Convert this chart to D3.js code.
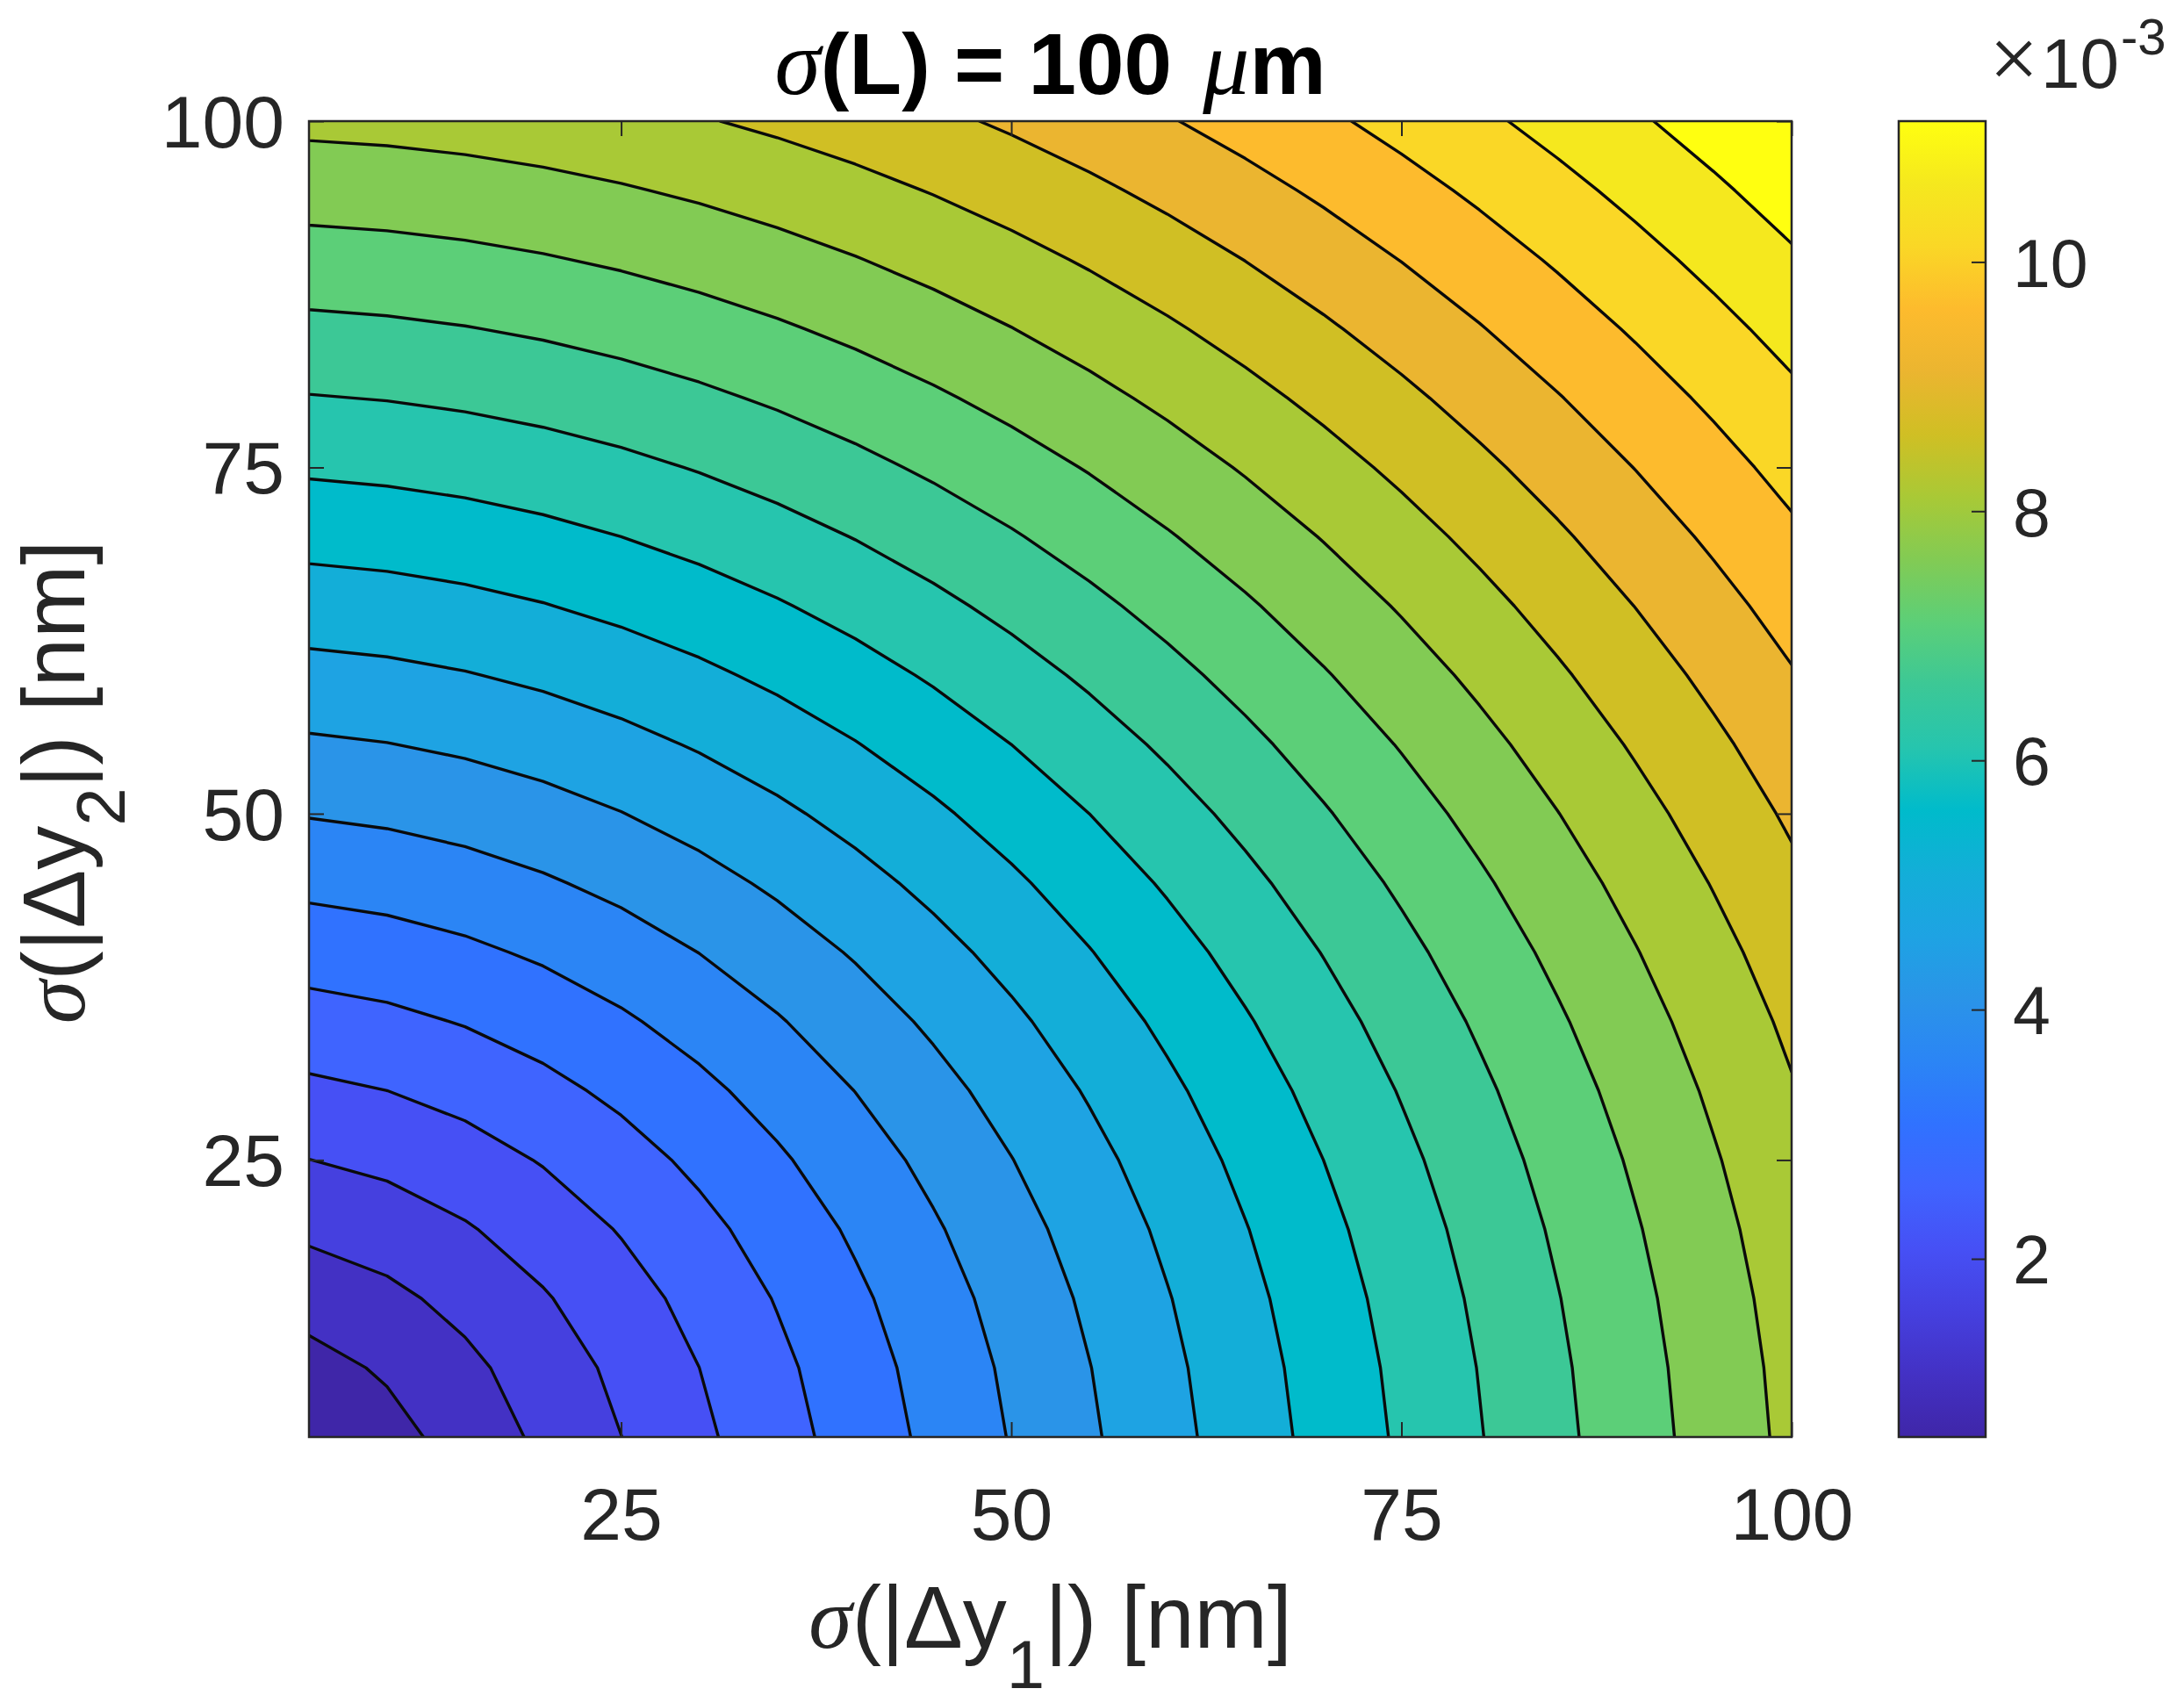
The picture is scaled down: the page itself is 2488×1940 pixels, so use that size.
<!DOCTYPE html>
<html>
<head>
<meta charset="utf-8">
<script src="https://cdn.jsdelivr.net/npm/d3@7"></script>
<style>
  body { margin: 0; background: #fff; }
  text { font-family: "Liberation Sans", Arial, sans-serif; fill: #262626; }
  .greek { font-family: "Liberation Serif", serif; font-style: italic; font-weight: normal; }
</style>
</head>
<body>
<svg id="chart" width="2488" height="1940"></svg>
<script>
// Grid positions of the sigma(|dy|) sweep, nm
const sweep = [5, 10, 15, 20, 25, 30, 35, 40, 45, 50, 55, 60, 65, 70, 75, 80, 85, 90, 95, 100];

// Upper triangle of the surface in units of 1e-3 (plot is mirrored about the diagonal)
const surfaceRows = [
  [0.556, 0.880, 1.244, 1.622, 2.006, 2.394, 2.782, 3.172, 3.563, 3.955, 4.346, 4.739, 5.130, 5.523, 5.915, 6.308, 6.701, 7.094, 7.487, 7.880],
  [1.113, 1.419, 1.760, 2.119, 2.489, 2.865, 3.245, 3.628, 4.013, 4.399, 4.787, 5.176, 5.565, 5.955, 6.345, 6.736, 7.127, 7.518, 7.909],
  [1.670, 1.968, 2.294, 2.640, 2.997, 3.362, 3.733, 4.108, 4.487, 4.867, 5.250, 5.634, 6.019, 6.406, 6.793, 7.181, 7.569, 7.958],
  [2.226, 2.520, 2.838, 3.172, 3.519, 3.876, 4.238, 4.606, 4.977, 5.352, 5.729, 6.109, 6.490, 6.872, 7.256, 7.640, 8.026],
  [2.782, 3.073, 3.385, 3.712, 4.051, 4.399, 4.755, 5.116, 5.481, 5.850, 6.222, 6.596, 6.973, 7.351, 7.731, 8.112],
  [3.339, 3.628, 3.935, 4.256, 4.589, 4.931, 5.279, 5.634, 5.994, 6.357, 6.724, 7.094, 7.466, 7.840, 8.217],
  [3.895, 4.183, 4.487, 4.803, 5.130, 5.466, 5.810, 6.159, 6.514, 6.872, 7.234, 7.600, 7.968, 8.338],
  [4.452, 4.739, 5.039, 5.352, 5.675, 6.006, 6.345, 6.690, 7.039, 7.393, 7.751, 8.112, 8.476],
  [5.008, 5.294, 5.593, 5.903, 6.222, 6.549, 6.884, 7.224, 7.569, 7.919, 8.273, 8.630],
  [5.565, 5.850, 6.147, 6.454, 6.770, 7.094, 7.425, 7.761, 8.103, 8.449, 8.799],
  [6.121, 6.406, 6.701, 7.006, 7.319, 7.640, 7.968, 8.301, 8.639, 8.982],
  [6.678, 6.962, 7.256, 7.559, 7.870, 8.188, 8.513, 8.843, 9.178],
  [7.234, 7.518, 7.811, 8.112, 8.421, 8.737, 9.059, 9.387],
  [7.791, 8.074, 8.366, 8.666, 8.973, 9.287, 9.607],
  [8.347, 8.630, 8.921, 9.220, 9.525, 9.838],
  [8.904, 9.186, 9.477, 9.774, 10.078],
  [9.461, 9.743, 10.032, 10.329],
  [10.017, 10.299, 10.588],
  [10.573, 10.855],
  [11.130]
];

const levels = [1.05, 1.53, 2.01, 2.49, 2.97, 3.45, 3.93, 4.41, 4.89, 5.37, 5.85, 6.33, 6.81, 7.29, 7.77, 8.25, 8.73, 9.21, 9.69, 10.17, 10.65];

const axisTicks = [25, 50, 75, 100];
const colorbarTicks = [2, 4, 6, 8, 10];
const colorLimits = [0.57, 11.13];

// Band colours bottom to top
const bandColors = ["#3f26a8", "#4331c4", "#4540df", "#4650f5", "#3f64ff", "#3072ff", "#2b85f5", "#2a94e8",
  "#1ea3e3", "#13aed8", "#00bbcb", "#26c5ae", "#3cc896", "#5ccf78", "#82cb54", "#a9c936",
  "#d0bf24", "#ebb530", "#fdbb2d", "#fad726", "#f5e81e", "#ffff10"];

// Set dimensions
const plot = { left: 352, right: 2041, top: 138, bottom: 1637 };
const bar = { left: 2163, right: 2262 };
const ink = "#262626";

const svg = d3.select("#chart");

const x = d3.scaleLinear().domain([5, 100]).range([plot.left, plot.right]);
const y = d3.scaleLinear().domain([5, 100]).range([plot.bottom, plot.top]);
const c = d3.scaleLinear().domain(colorLimits).range([plot.bottom, plot.top]);

// Mirror the triangle into the full grid for d3.contours
const n = sweep.length;
const values = [];
for (let j = 0; j < n; j++) {
  for (let i = 0; i < n; i++) {
    const lo = Math.min(i, j), hi = Math.max(i, j);
    values.push(surfaceRows[lo][hi - lo]);
  }
}

// d3.contours puts cell i at i + 0.5, so map that back onto the sweep values
const step = sweep[1] - sweep[0];
const toPlot = d3.geoTransform({
  point(px, py) {
    this.stream.point(x(sweep[0] + step * (px - 0.5)), y(sweep[0] + step * (py - 0.5)));
  }
});
const path = d3.geoPath(toPlot);

const defs = svg.append("defs");
defs.append("clipPath").attr("id", "plotClip").append("rect")
  .attr("x", plot.left).attr("y", plot.top)
  .attr("width", plot.right - plot.left).attr("height", plot.bottom - plot.top);

const grad = defs.append("linearGradient").attr("id", "barGrad")
  .attr("x1", 0).attr("x2", 0).attr("y1", 1).attr("y2", 0);
bandColors.forEach((col, i) => {
  grad.append("stop").attr("offset", i / (bandColors.length - 1)).attr("stop-color", col);
});

// Filled contours
const field = svg.append("g").attr("clip-path", "url(#plotClip)");
field.append("rect")
  .attr("x", plot.left).attr("y", plot.top)
  .attr("width", plot.right - plot.left).attr("height", plot.bottom - plot.top)
  .attr("fill", bandColors[0]);

const contours = d3.contours().size([n, n]).thresholds(levels)(values);
field.selectAll("path.band").data(contours).join("path")
  .attr("class", "band")
  .attr("d", path)
  .attr("fill", (d, i) => bandColors[i + 1])
  .attr("stroke", "#0a0a0a")
  .attr("stroke-width", 3.4)
  .attr("stroke-linejoin", "round");

// Plot frame
svg.append("rect")
  .attr("x", plot.left).attr("y", plot.top)
  .attr("width", plot.right - plot.left).attr("height", plot.bottom - plot.top)
  .attr("fill", "none").attr("stroke", ink).attr("stroke-width", 2.5);

// Axes, MATLAB style ticks pointing inward on all four sides
function styleAxis(g) {
  g.select(".domain").remove();
  g.selectAll("line").attr("stroke", ink).attr("stroke-width", 2);
  g.selectAll("text").attr("fill", ink).style("font-size", "84px")
    .style("font-family", '"Liberation Sans", Arial, sans-serif');
}

svg.append("g")
  .attr("transform", `translate(0,${plot.bottom})`)
  .call(d3.axisBottom(x).tickValues(axisTicks).tickSize(-17).tickPadding(57))
  .call(styleAxis);

svg.append("g")
  .attr("transform", `translate(${plot.left},0)`)
  .call(d3.axisLeft(y).tickValues(axisTicks).tickSize(-17).tickPadding(28))
  .call(styleAxis)
  .selectAll("text").attr("dy", "0.35em");

svg.append("g")
  .attr("transform", `translate(0,${plot.top})`)
  .call(d3.axisTop(x).tickValues(axisTicks).tickSize(-17).tickFormat(""))
  .call(styleAxis);

svg.append("g")
  .attr("transform", `translate(${plot.right},0)`)
  .call(d3.axisRight(y).tickValues(axisTicks).tickSize(-17).tickFormat(""))
  .call(styleAxis);

// Colorbar
svg.append("rect")
  .attr("x", bar.left).attr("y", plot.top)
  .attr("width", bar.right - bar.left).attr("height", plot.bottom - plot.top)
  .attr("fill", "url(#barGrad)").attr("stroke", ink).attr("stroke-width", 2.5);

svg.append("g")
  .attr("transform", `translate(${bar.right},0)`)
  .call(d3.axisRight(c).tickValues(colorbarTicks).tickSize(-16).tickPadding(31))
  .call(styleAxis)
  .selectAll("text").style("font-size", "77px").attr("dy", "0.36em");

// Colorbar exponent
const expo = svg.append("g");
expo.append("text").attr("x", 2266).attr("y", 100)
  .style("font-family", '"Liberation Serif", serif').style("font-size", "100px").text("\u00d7");
expo.append("text").attr("x", 2325).attr("y", 100).style("font-size", "80px").text("10");
expo.append("text").attr("x", 2416).attr("y", 62).style("font-size", "58px").text("-3");

// Title
const title = svg.append("text")
  .attr("x", (plot.left + plot.right) / 2).attr("y", 107)
  .attr("text-anchor", "middle")
  .style("font-size", "98px").style("font-weight", "bold").style("fill", "#000");
title.append("tspan").attr("class", "greek").style("font-size", "106px").text("\u03c3");
title.append("tspan").text("(L) = 100 ");
title.append("tspan").attr("class", "greek").attr("dx", 8).style("font-size", "106px").text("\u03bc");
title.append("tspan").text("m");

// Axis labels, each with a subscript on the y
function axisLabel(sel, sub) {
  sel.style("font-size", "100px").attr("text-anchor", "middle");
  sel.append("tspan").attr("class", "greek").text("\u03c3");
  sel.append("tspan").text("(|\u0394y");
  sel.append("tspan").attr("dy", 46).style("font-size", "78px").text(sub);
  sel.append("tspan").attr("dy", -46).text("|) [nm]");
}

svg.append("text")
  .attr("x", (plot.left + plot.right) / 2).attr("y", 1877)
  .call(axisLabel, "1");

svg.append("text")
  .attr("transform", "translate(96,891) rotate(-90)")
  .call(axisLabel, "2");
</script>
</body>
</html>
